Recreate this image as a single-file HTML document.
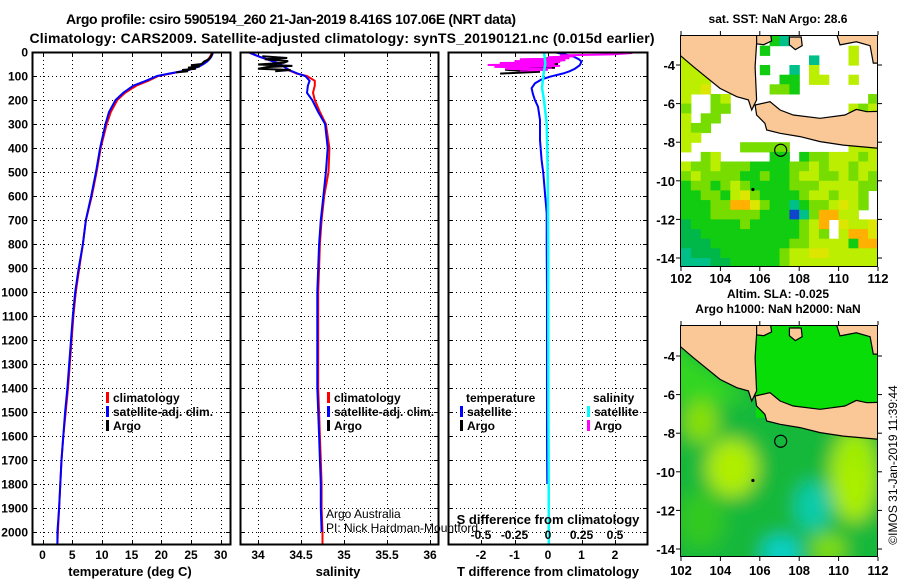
<!DOCTYPE html>
<html><head><meta charset="utf-8"><style>
html,body{margin:0;padding:0;background:#fff;}
svg{display:block;font-family:"Liberation Sans",sans-serif;}
.b{font-weight:bold;}
</style></head><body>
<svg id="s" width="900" height="580" viewBox="0 0 900 580" xmlns="http://www.w3.org/2000/svg">
<defs>
<clipPath id="c1"><rect x="32" y="52" width="199" height="493"/></clipPath>
<clipPath id="c2"><rect x="240" y="52" width="199" height="493"/></clipPath>
<clipPath id="c3"><rect x="448" y="52" width="200" height="493"/></clipPath>
<clipPath id="cm1"><rect x="680" y="35" width="198" height="232"/></clipPath>
<clipPath id="cm2"><rect x="680" y="325" width="198" height="232"/></clipPath>
<filter id="blur" x="-20%" y="-20%" width="140%" height="140%"><feGaussianBlur stdDeviation="9"/></filter>
</defs>
<text x="291" y="24" class="b" font-size="14" text-anchor="middle" textLength="450">Argo profile: csiro 5905194_260 21-Jan-2019 8.416S 107.06E (NRT data)</text>
<text x="342" y="43" class="b" font-size="14" text-anchor="middle" textLength="625">Climatology: CARS2009. Satellite-adjusted climatology: synTS_20190121.nc (0.015d earlier)</text>
<g id="g"></g>
</svg>
<script>
// ---- profile data ----
const tDepth=[0,10,20,30,40,50,60,75,90,100,120,140,170,200,250,300,400,500,600,700,800,900,1000,1100,1200,1300,1400,1500,1600,1700,1800,1900,2000,2050];
const tClim=[28.5,28.4,28.2,27.9,27.5,27.0,26.2,24.5,21.5,19.5,17.8,15.8,13.9,12.6,11.5,10.8,9.8,9.1,8.3,7.3,6.8,6.2,5.6,5.2,4.9,4.6,4.3,3.9,3.5,3.2,3.0,2.8,2.6,2.5];
const tSat=[28.7,28.6,28.4,28.1,27.7,27.1,26.4,24.6,21.3,19.3,17.4,15.3,13.6,12.3,11.2,10.6,9.7,9.0,8.2,7.3,6.8,6.1,5.5,5.1,4.8,4.5,4.2,3.8,3.5,3.2,3.0,2.8,2.5,2.5];
const argoTDepth=[2,10,20,30,40,50,55,60,65,70,75,80,85];
const argoT=[28.6,28.5,28.3,28.0,27.2,26.8,25.0,26.5,24.5,25.8,23.5,24.5,22.5];
const sClim=[33.88,33.95,34.02,34.1,34.18,34.26,34.3,34.35,34.45,34.57,34.66,34.66,34.64,34.66,34.72,34.79,34.83,34.82,34.77,34.74,34.72,34.71,34.70,34.70,34.70,34.70,34.70,34.71,34.72,34.73,34.74,34.74,34.75,34.75];
const sSat=[33.88,33.95,34.02,34.1,34.18,34.26,34.3,34.36,34.46,34.55,34.6,34.58,34.57,34.63,34.70,34.78,34.81,34.79,34.76,34.73,34.71,34.70,34.69,34.69,34.69,34.69,34.69,34.70,34.71,34.72,34.73,34.73,34.74,34.74];
const argoSDepth=[18,25,30,38,45,52,58,63,70,75,80];
const argoS=[34.05,34.34,34.08,34.35,34.30,34.0,34.4,34.1,34.0,34.38,34.2];
const tDiffDepth=[0,10,19,30,40,55,69,80,89,103,115,131,151,175,200,228,283,367,450,506,589,672,800,1000,1200,1400,1600,1800];
const tDiff=[0.16,0.5,0.76,0.92,1.0,0.95,0.81,0.65,0.46,0.06,-0.2,-0.39,-0.49,-0.45,-0.39,-0.3,-0.24,-0.24,-0.19,-0.14,-0.09,-0.04,-0.04,-0.03,-0.03,-0.03,-0.03,-0.02];
const sDiffDepth=[0,20,50,80,100,150,200,300,400,500,700,900,1200,1500,1800,2050];
const sDiff=[-0.03,-0.025,-0.02,-0.03,-0.035,-0.045,-0.03,-0.01,-0.005,-0.002,0.001,0.002,0.002,0.003,0.005,0.006];
const argoTDiffDepth=[20,28,35,42,50,58,66,74,82,90];
const argoTDiff=[0.36,-0.09,0.42,-0.24,0.3,-0.84,0.21,-1.28,-0.24,-1.43];
const argoSDiffDepth=[4,10,14,18,22,26,30,34,38,42,46,50,54,58,62,66,70,74,78];
const argoSDiff=[0.63,0.48,0.09,0.20,0,0.16,-0.21,0.13,-0.25,0.09,-0.36,0.05,-0.45,0.09,-0.40,0.03,-0.32,0,-0.21];
const depthTicks=[0,100,200,300,400,500,600,700,800,900,1000,1100,1200,1300,1400,1500,1600,1700,1800,1900,2000];
const tTicks=[0,5,10,15,20,25,30];
const sTicks=[34,34.5,35,35.5,36];
const sTickLabels=["34","34.5","35","35.5","36"];
const dTicks=[-2,-1,0,1,2];
const sdTicks=[-0.5,-0.25,0,0.25,0.5];
// ---- map data ----
const lonTicks=[102,104,106,108,110,112];
const latTicks=[-4,-6,-8,-10,-12,-14];
const sstRows=[
"wwwwwwwwwgtwwwwwwwww","gwwwwwwwgwwwwwwwwyww","yywwwwwwwwwwwtwwwyww","yyywwwwwgwwtwywwwwww",
"yyywwwwwwwggwyywwyww","yyYwwwwwwllgwwwwwwww","ywwlywwwwwwwwwwwwwwl","lwwllwwwwwwwwwwwwyly",
"ywllwwwwwwwwwwwwwwwy","yllwwwwwwwwwwwwwwwww","yywwwwwwwwwwwwwwwwwl","ywwwwwlllllwwwwwwyyy",
"wwlywwwwwggwgllyyyly","yllylllggggllylyylyy","lyllllgglgglyyllylyl","gllglylgggglllyyyyll",
"ggllgyYlgggglyylyylw","gggllooYlggtgllyYylw","ggglllllgggbtlooyyww","GggggglggggglyowYyyY",
"GGgggggggggglylwyooY","GGGggggggggllyyyygoo","tGGGgggggglyyYYyyyyy","tttGGggggglyyyyyyyyy"];
const sstColors={w:"#ffffff",g:"#11cc11",l:"#77dd00",y:"#bbee00",Y:"#dde600",o:"#ffb000",G:"#00b84a",t:"#00c08a",b:"#1144cc"};
const sumatra=[[101.9,-2.4],[105.84,-2.4],[105.84,-2.88],[105.76,-4.09],[105.84,-5.81],[105.59,-6.33],[105.42,-5.81],[104.83,-5.64],[103.98,-5.21],[102.63,-4.09],[101.9,-3.45]];
const java=[[105.76,-6.07],[106.52,-5.9],[107.03,-6.33],[107.7,-6.59],[109.06,-6.76],[110.32,-6.59],[110.9,-6.3],[111.43,-6.42],[112.1,-6.4],[112.1,-8.32],[111.09,-8.23],[110.24,-8.15],[109.06,-7.97],[108.04,-7.71],[107.03,-7.54],[106.35,-7.37],[106.26,-7.02],[105.84,-6.59]];
const bangka=[[105.84,-2.4],[106.55,-2.4],[106.6,-2.75],[106.2,-2.95],[105.84,-2.9]];
const island=[[107.5,-2.55],[108.1,-2.55],[108.15,-3.0],[107.8,-3.2],[107.5,-2.95]];
const borneo=[[109.9,-2.4],[112.1,-2.4],[112.1,-3.9],[111.76,-3.9],[111.6,-3.0],[110.9,-2.8],[110.07,-2.96]];
const argoPos=[107.06,-8.416];

const NS="http://www.w3.org/2000/svg";
const root=document.getElementById('g');
function el(tag,attrs,parent){const e=document.createElementNS(NS,tag);for(const k in attrs)e.setAttribute(k,attrs[k]);(parent||root).appendChild(e);return e;}
function txt(x,y,s,size,bold,anchor,parent){const t=el('text',{x:x,y:y,'font-size':size,'text-anchor':anchor||'start'},parent);if(bold)t.setAttribute('font-weight','bold');t.textContent=s;return t;}

const depthY=d=>52+d*0.24;
const tX=v=>42.5+v*5.94;
const sX=v=>258+(v-34)*86;
const dX=v=>548+v*33.5;
const sdX=v=>548+v*134;

function panel(x0,x1,name,xt,xf,labels,title,titleX,clip){
  const g=el('g',{});
  
  
  const grid=el('g',{stroke:'#000','stroke-width':1,'stroke-dasharray':'1,3'},g);
  
  
  depthTicks.forEach(d=>{if(d>0){el('line',{x1:x0,x2:x1,y1:depthY(d)+0.5,y2:depthY(d)+0.5},grid);}});
  xt.forEach(v=>{const x=Math.round(xf(v))+0.5;el('line',{x1:x,x2:x,y1:52,y2:545},grid);});
  const tk=el('g',{stroke:'#000','stroke-width':1},g);
  depthTicks.forEach(d=>{const y=depthY(d)+0.5;el('line',{x1:x0,x2:x0+5,y1:y,y2:y},tk);el('line',{x1:x1-5,x2:x1,y1:y,y2:y},tk);});
  xt.forEach(v=>{const x=Math.round(xf(v))+0.5;el('line',{x1:x,x2:x,y1:540,y2:545},tk);el('line',{x1:x,x2:x,y1:52,y2:57},tk);});
  xt.forEach((v,i)=>{const t=txt(xf(v),559,labels[i],12,true,'middle',g);});
  const tt=txt(titleX,576,title,13,true,'middle',g);
  
  
  const lines=el('g',{'clip-path':'url(#'+clip+')',fill:'none','stroke-width':2},g);
  const fr=el('rect',{x:x0+0.5,y:52.5,width:x1-x0-1,height:492,fill:'none',stroke:'#000','stroke-width':2},g);
  
  
  return lines;
}
function series(parent,depths,vals,xf,color,name,w){
  const pts=depths.map((d,i)=>xf(vals[i]).toFixed(1)+','+depthY(d).toFixed(1)).join(' ');
  const p=el('polyline',{points:pts,stroke:color,'stroke-width':w||2,fill:'none'},parent);
  
  
}
function legendItem(x,y,color,label,parent,name){
  el('rect',{x:x,y:y-10,width:3,height:11,fill:color},parent);
  const t=txt(x+7,y,label,12,true,'start',parent);
  
  
}

const yl=el('g',{});


depthTicks.forEach(d=>txt(28,depthY(d)+4.5,String(d),12,true,'end',yl));

const L1=panel(32,231,'temperature-panel',tTicks,tX,tTicks.map(String),'temperature (deg C)',130,'c1');
series(L1,tDepth,tClim,tX,'#ff0000','temperature-climatology-line');
series(L1,tDepth,tSat,tX,'#0000ff','temperature-satellite-line');
series(L1,argoTDepth,argoT,tX,'#000000','temperature-argo-line');
const lg1=el('g',{});


legendItem(106,402,'#ff0000','climatology',lg1,'legend-entry-climatology');
legendItem(106,416,'#0000ff','satellite-adj. clim.',lg1,'legend-entry-satellite');
legendItem(106,430,'#000000','Argo',lg1,'legend-entry-argo');

const L2=panel(240,439,'salinity-panel',sTicks,sX,sTickLabels,'salinity',338,'c2');
series(L2,tDepth,sClim,sX,'#ff0000','salinity-climatology-line');
series(L2,tDepth.slice(0,33),sSat.slice(0,33),sX,'#0000ff','salinity-satellite-line');
series(L2,argoSDepth,argoS,sX,'#000000','salinity-argo-line');
const lg2=el('g',{});


legendItem(327,402,'#ff0000','climatology',lg2,'legend-entry-climatology');
legendItem(327,416,'#0000ff','satellite-adj. clim.',lg2,'legend-entry-satellite');
legendItem(327,430,'#000000','Argo',lg2,'legend-entry-argo');
const a1=txt(326,518,'Argo Australia',12,false,'start');


const a2=txt(326,532,'PI: Nick Hardman-Mountford',12,false,'start');



const L3=panel(448,648,'difference-panel',dTicks,dX,dTicks.map(String),'T difference from climatology',548,'c3');
series(L3,argoTDiffDepth,argoTDiff,dX,'#000000','t-diff-argo-line');
series(L3,tDiffDepth,tDiff,dX,'#0000ff','t-diff-satellite-line');
series(L3,argoSDiffDepth,argoSDiff,sdX,'#ff00ff','s-diff-argo-line');
series(L3,sDiffDepth,sDiff,sdX,'#00ffff','s-diff-satellite-line',2.5);
const lg3=el('g',{});


const lt=txt(466,402,'temperature',12,true,'start',lg3);


legendItem(460,416,'#0000ff','satellite',lg3,'legend-entry-t-satellite');
legendItem(460,430,'#000000','Argo',lg3,'legend-entry-t-argo');
const ls=txt(593,402,'salinity',12,true,'start',lg3);


legendItem(587,416,'#00ffff','satellite',lg3,'legend-entry-s-satellite');
legendItem(587,430,'#ff00ff','Argo',lg3,'legend-entry-s-argo');
const sdt=txt(548,524,'S difference from climatology',13,true,'middle');


sdTicks.forEach(v=>{const t=txt(sdX(v),539,'',12,true,'middle');
 t.textContent=(v===0?'0':(v<0?'-':'')+'0'+String(Math.abs(v)).slice(1));
 
 });

function makeMap(top,latY0,name,clip,titleLines){
  const mx=lon=>681+(lon-102)*19.7;
  const my=lat=>latY0+(-4-lat)*19.3;
  const g=el('g',{});
  
  
  const inner=el('g',{'clip-path':'url(#'+clip+')'},g);
  titleLines.forEach((t,i)=>{const tx=txt(778,top-12-(titleLines.length-1-i)*15,t,12,true,'middle',g);});
  return {g,inner,mx,my};
}
function land(m){
  [sumatra,java,bangka,island,borneo].forEach((poly,i)=>{
    const p=el('polygon',{points:poly.map(q=>m.mx(q[0]).toFixed(1)+','+m.my(q[1]).toFixed(1)).join(' '),fill:'#f9c896',stroke:'#000','stroke-width':1.2},m.inner);
    
    
  });
  const c=el('circle',{cx:m.mx(argoPos[0]),cy:m.my(argoPos[1]),r:6,fill:'none',stroke:'#000','stroke-width':1.2},m.inner);
  
  
  el('circle',{cx:m.mx(105.65),cy:m.my(-10.45),r:1.6,fill:'#000'},m.inner);
}
function axes(m,top,bottom,labelY){
  el('rect',{x:680.5,y:top+0.5,width:197,height:bottom-top-1,fill:'none',stroke:'#000','stroke-width':1},m.g);
  lonTicks.forEach(v=>{const x=m.mx(v);el('line',{x1:x,x2:x,y1:top-4,y2:top,stroke:'#000'},m.g);el('line',{x1:x,x2:x,y1:bottom,y2:bottom+4,stroke:'#000'},m.g);
    const t=txt(x,labelY,String(v),13,true,'middle',m.g);});
  latTicks.forEach(v=>{const y=m.my(v);el('line',{x1:676,x2:680,y1:y,y2:y,stroke:'#000'},m.g);el('line',{x1:878,x2:882,y1:y,y2:y,stroke:'#000'},m.g);
    const t=txt(675,y+5,String(v),13,true,'end',m.g);});
}
const m1=makeMap(35,65,'sst-map','cm1',['sat. SST: NaN Argo: 28.6']);
sstRows.forEach((row,r)=>{for(let c=0;c<row.length;c++){const ch=row[c];if(ch==='w')continue;
  const x=m1.mx(102+c*0.5),y=m1.my(-2.5-r*0.5);
  const cell=el('rect',{x:x.toFixed(1),y:y.toFixed(1),width:10.4,height:10.2,fill:sstColors[ch]},m1.inner);
  
  }});
land(m1);axes(m1,35,267,283);
const m2=makeMap(325,356,'sla-map','cm2',['Altim. SLA: -0.025','Argo h1000: NaN h2000: NaN']);
const bg=el('g',{filter:'url(#blur)'},m2.inner);
el('rect',{x:660,y:310,width:240,height:270,fill:'#12b83a'},bg);
el('polygon',{points:[[101,-3],[104,-5],[105.5,-6.3],[103,-6.5],[101,-6]].map(q=>m2.mx(q[0])+','+m2.my(q[1])).join(' '),fill:'#33d622'},bg);
[[104.6,-9.8,1.3,1.5,'#b0ee00'],[103,-7.4,0.9,1.1,'#88e000'],[110.8,-10.2,1.2,2.4,'#aaee00'],[111,-9,0.9,0.9,'#a0ec00'],[108.7,-11.8,0.9,1.3,'#10ccaa'],[107.1,-14.2,1.0,0.9,'#10d0c8'],[103,-12.5,1.2,1.5,'#30c822'],[109.5,-14,0.9,0.8,'#80dd10']].forEach(b=>{
  el('ellipse',{cx:m2.mx(b[0]),cy:m2.my(b[1]),rx:b[2]*19.7,ry:b[3]*19.3,fill:b[4]},bg);});
el('polygon',{points:[[105.8,-2],[113,-2],[113,-7.2],[105.8,-7.2]].map(q=>m2.mx(q[0])+','+m2.my(q[1])).join(' '),fill:'#08dd08'},m2.inner);
land(m2);axes(m2,325,557,575);
const ts=el('text',{x:0,y:0,'font-size':12,transform:'translate(897,465) rotate(-90)','text-anchor':'middle'});
ts.textContent='©IMOS 31-Jan-2019 11:39:44';


</script>
</body></html>
